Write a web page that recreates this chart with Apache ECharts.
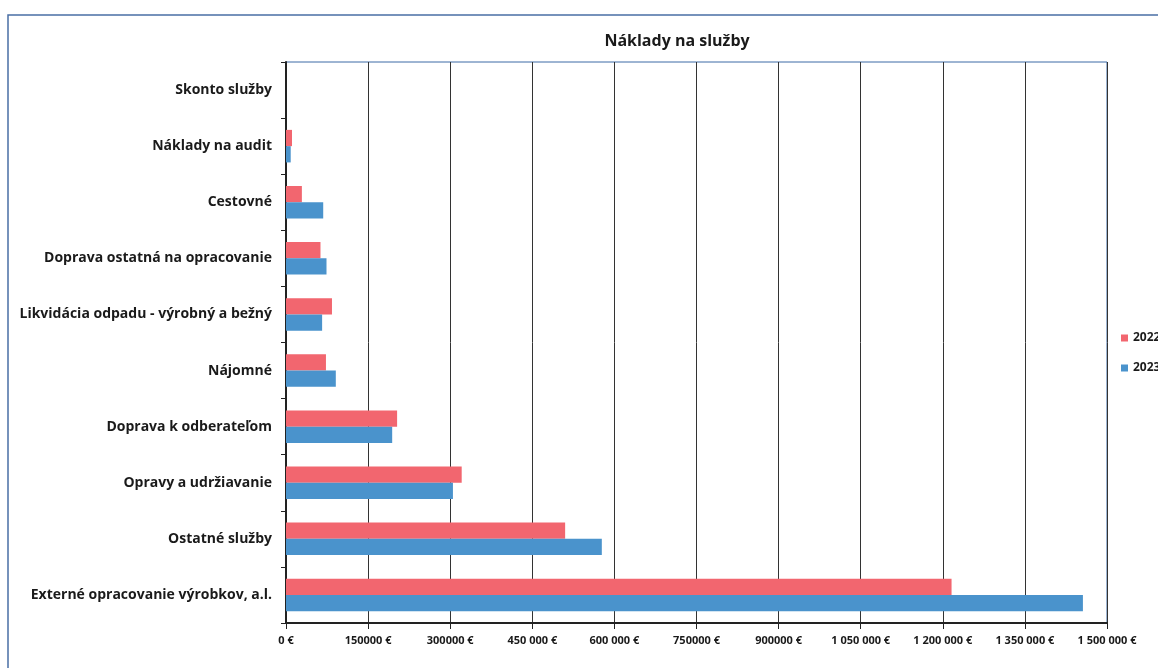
<!DOCTYPE html>
<html>
<head>
<meta charset="utf-8">
<script src="https://cdn.jsdelivr.net/npm/echarts@6/dist/echarts.min.js"></script>
<style>
  html, body { margin: 0; padding: 0; background: #fff; }
  #chart { width: 1158px; height: 668px; }
</style>
</head>
<body>
<div id="chart"></div>
<script>
// Service cost categories, listed bottom to top on the axis
const categories = [
  'Externé opracovanie výrobkov, a.l.',
  'Ostatné služby',
  'Opravy a udržiavanie',
  'Doprava k odberateľom',
  'Nájomné',
  'Likvidácia odpadu - výrobný a bežný',
  'Doprava ostatná na opracovanie',
  'Cestovné',
  'Náklady na audit',
  'Skonto služby'
];
const values2022 = [1216000, 510000, 321000, 203000, 73000, 84000, 63000, 29000, 11000, 0];
const values2023 = [1456000, 577000, 305000, 194000, 91000, 66000, 74000, 68000, 8600, 0];
const xTickLabels = ['0 €', '150000 €', '300000 €', '450 000 €', '600 000 €', '750000 €',
  '900000 €', '1 050 000 €', '1 200 000 €', '1 350 000 €', '1 500 000 €'];

const FONT = "'Open Sans', sans-serif";
const RED = '#f2666f';
const BLUE = '#4a93cc';

const chart = echarts.init(document.getElementById('chart'));
chart.setOption({
  animation: false,
  backgroundColor: '#ffffff',
  title: {
    text: 'Náklady na služby',
    left: 672, top: 28, textAlign: 'center',
    textStyle: { fontFamily: FONT, fontWeight: 'bold', fontSize: 16, color: '#1a1a1a' }
  },
  legend: {
    orient: 'vertical', left: 1116, top: 327, itemGap: 18,
    itemWidth: 7, itemHeight: 7, icon: 'rect',
    textStyle: { fontFamily: FONT, fontWeight: 'bold', fontSize: 12, color: '#1a1a1a' },
    data: ['2022', '2023']
  },
  graphic: [
    { type: 'polyline', shape: { points: [[8, 668], [8, 15], [1158, 15]] },
      style: { stroke: '#4a6fa5', lineWidth: 1.5, fill: null } }
  ],
  grid: {
    left: 286, right: 51, top: 62, bottom: 45,
    show: true, borderColor: '#3d6aa6', borderWidth: 1
  },
  xAxis: {
    type: 'value', min: 0, max: 1500000, interval: 150000,
    axisLine: { show: true, lineStyle: { color: '#222', width: 2 } },
    axisTick: { show: true, length: 6, lineStyle: { color: '#222' } },
    splitLine: { show: true, lineStyle: { color: '#333', width: 1 } },
    axisLabel: {
      margin: 12, fontFamily: FONT, fontWeight: 'bold', fontSize: 11, color: '#1a1a1a',
      formatter: (v) => xTickLabels[Math.round(v / 150000)]
    }
  },
  yAxis: {
    type: 'category', data: categories,
    axisLine: { show: true, lineStyle: { color: '#222', width: 2 } },
    axisTick: { show: true, length: 5, lineStyle: { color: '#222' } },
    axisLabel: { margin: 14, fontFamily: FONT, fontWeight: 'bold', fontSize: 14, color: '#1a1a1a' }
  },
  series: [
    { name: '2022', type: 'bar', data: values2022, barGap: '0%', barCategoryGap: '42%',
      itemStyle: { color: RED } },
    { name: '2023', type: 'bar', data: values2023, barGap: '0%', barCategoryGap: '42%',
      itemStyle: { color: BLUE } }
  ]
});
</script>
</body>
</html>
